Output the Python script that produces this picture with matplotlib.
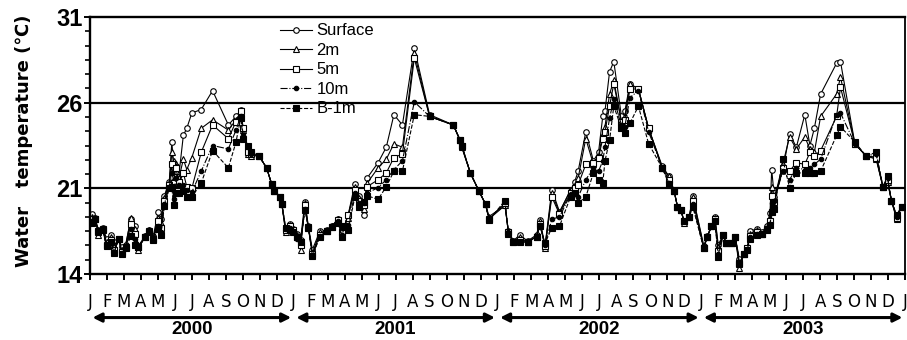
import numpy as np
import matplotlib
matplotlib.use("Agg")
import matplotlib.pyplot as plt

plt.rcParams['font.family'] = ['Liberation Sans', 'DejaVu Sans']

# sampling dates in months since January 2000
months = [0.10, 0.30, 0.50, 0.75, 0.98, 1.22, 1.41, 1.70, 1.86, 2.10, 2.41, 2.65, 2.85, 3.24, 3.49, 3.73,
          4.02, 4.18, 4.38, 4.67, 4.82, 4.92, 5.05, 5.24, 5.50, 5.70, 6.00, 6.55, 7.22, 8.15, 8.60, 8.87,
          9.03, 9.32, 9.50, 9.95, 10.40, 10.70, 10.86, 11.20, 11.30, 11.52, 11.78,
          11.97, 12.17, 12.40, 12.66, 12.86, 13.10, 13.54, 13.94, 14.23, 14.62, 14.82, 14.98, 15.20, 15.60,
          15.85, 16.15, 16.32, 16.97, 17.45, 17.90, 18.40, 19.10, 20.00, 21.40, 21.80, 21.90, 22.40, 22.90,
          23.30, 23.50,
          24.44, 24.64, 24.93, 25.30, 25.77, 26.30, 26.50, 26.80, 27.20, 27.65, 28.30, 28.55, 28.75, 29.20,
          29.65, 29.95, 30.20, 30.33, 30.60, 30.85, 31.30, 31.50, 31.80, 32.30, 32.90, 33.70, 34.10, 34.40,
          34.60, 34.80, 35.00, 35.30, 35.50, 36.15,
          36.35, 36.60, 36.80, 37.00, 37.30, 37.45, 37.80, 38.00, 38.25, 38.50, 38.70, 38.90, 39.26, 39.55,
          39.85, 40.05, 40.15, 40.30, 40.80, 41.20, 41.60, 42.10, 42.40, 42.66, 43.03, 43.97, 44.20, 45.05,
          45.70, 46.30, 46.70, 46.97, 47.20, 47.50, 47.80]

surface = [18.9, 18.6, 17.6, 17.8, 16.9, 17.2, 16.6, 16.9, 16.2, 16.4, 18.5, 17.9, 16.3, 17.1, 17.6, 17.1,
           19.1, 18.5, 20.4, 21.4, 23.7, 22.5, 22.3, 21.8, 24.1, 24.5, 25.4, 25.6, 26.7, 24.7, 25.2, 25.55,
           24.4, 23.3, 23.0, 22.9, 22.2, 21.25, 20.8, 20.3, 19.7, 17.8, 18.1,
           17.7, 17.3, 16.8, 19.9, 17.9, 16.0, 17.5, 17.6, 17.9, 18.5, 17.8, 17.9, 18.8, 21.25,
           20.4, 18.8, 21.6, 22.5, 23.4, 25.3, 24.7, 29.2, 25.3, 24.7, 23.8, 23.4, 21.9, 20.8,
           19.7, 18.5,
           19.6, 17.5, 16.7, 17.2, 16.7, 17.2, 18.4, 16.3, 20.9, 19.1, 20.8, 21.4, 22.0, 24.3,
           22.6, 23.1, 25.2, 25.5, 27.8, 28.4, 25.2, 25.5, 27.1, 26.8, 24.5, 22.3, 21.7, 20.8,
           19.5, 19.2, 18.3, 18.7, 20.4, 16.3,
           17.1, 17.9, 18.7, 16.4, 17.2, 16.5, 16.5, 17.05, 15.2, 15.6, 16.1, 17.5, 17.7, 17.4,
           17.9, 19.0, 22.1, 20.3, 22.0, 24.2, 23.4, 25.3, 23.5, 24.5, 26.5, 28.3, 28.4, 23.6,
           22.9, 22.8, 21.1, 21.4, 20.0, 18.8, 19.5]

depth_2m = [18.7, 18.6, 17.2, 17.7, 16.6, 17.0, 16.3, 16.9, 16.0, 16.3, 18.6, 17.7, 16.0, 17.1, 17.6, 17.0,
            18.6, 18.2, 20.2, 21.3, 23.1, 22.6, 22.0, 21.6, 22.7, 22.1, 22.8, 24.5, 25.0, 24.4, 25.0, 25.4,
            24.4, 23.0, 22.9, 22.9, 22.2, 21.25, 20.8, 20.3, 19.7, 17.45, 18.0,
            17.6, 17.2, 16.0, 19.8, 17.8, 15.7, 17.4, 17.5, 17.9, 18.5, 17.6, 17.9, 18.6, 21.1,
            20.2, 19.3, 21.3, 22.2, 22.7, 23.6, 23.4, 28.9, 25.2, 24.7, 23.8, 23.4, 21.9, 20.8,
            19.7, 18.7,
            19.6, 17.5, 16.7, 17.0, 16.6, 17.1, 18.3, 16.1, 20.6, 19.0, 20.9, 21.2, 21.6, 23.9,
            22.4, 22.9, 24.2, 24.6, 26.5, 27.3, 24.9, 25.2, 27.1, 26.8, 24.5, 22.2, 21.7, 20.8,
            19.5, 19.2, 18.2, 18.7, 20.3, 16.2,
            17.0, 17.9, 18.6, 16.2, 17.2, 16.5, 16.5, 17.05, 14.5, 15.6, 16.1, 17.3, 17.6, 17.3,
            17.8, 18.6, 21.1, 20.1, 22.4, 24.0, 23.3, 24.0, 23.3, 23.1, 25.2, 26.5, 27.5, 23.6,
            22.9, 22.7, 21.1, 21.4, 20.0, 18.5, 19.5]

depth_5m = [18.5, 18.5, 17.4, 17.7, 16.4, 16.8, 16.0, 16.9, 15.8, 16.2, 18.1, 17.3, 16.2, 17.0, 17.5, 16.9,
            18.3, 17.8, 20.0, 21.2, 22.4, 21.3, 22.2, 21.4, 21.9, 21.1, 21.0, 23.1, 24.7, 23.9, 24.9, 25.5,
            24.5, 23.1, 23.0, 22.9, 22.2, 21.25, 20.8, 20.3, 19.7, 17.6, 17.9,
            17.6, 17.0, 16.4, 19.6, 17.8, 15.6, 17.2, 17.5, 17.85, 18.4, 17.4, 17.9, 18.8, 20.9,
            20.0, 19.6, 21.1, 21.5, 21.9, 22.8, 23.0, 28.6, 25.2, 24.7, 23.8, 23.5, 21.9, 20.8,
            19.7, 18.5,
            19.8, 17.4, 16.6, 16.8, 16.6, 17.05, 18.1, 16.3, 20.3, 18.9, 20.6, 21.0, 21.2, 22.4,
            22.5, 22.8, 23.9, 24.3, 25.8, 27.1, 24.9, 25.0, 26.8, 26.8, 24.5, 22.2, 21.5, 20.8,
            19.5, 19.2, 18.3, 18.7, 20.0, 16.1,
            17.05, 17.9, 18.5, 15.9, 17.2, 16.5, 16.5, 17.05, 14.8, 15.6, 16.1, 17.1, 17.4, 17.3,
            17.7, 18.3, 20.4, 19.9, 22.2, 22.0, 22.5, 22.4, 23.1, 22.9, 23.2, 25.2, 26.9, 23.6,
            22.9, 22.8, 21.1, 21.5, 20.0, 18.6, 19.5]

depth_10m = [18.3, 18.5, 17.5, 17.6, 16.3, 16.6, 15.8, 16.85, 15.7, 16.1, 17.7, 16.9, 16.2, 17.0, 17.5, 16.8,
             17.9, 17.4, 19.7, 21.1, 21.9, 20.1, 21.6, 21.2, 21.2, 20.9, 20.7, 22.0, 23.5, 23.3, 24.4, 25.2,
             24.1, 23.4, 23.0, 22.9, 22.2, 21.25, 20.8, 20.3, 19.7, 17.7, 17.8,
             17.5, 16.9, 16.6, 19.3, 17.85, 15.5, 17.1, 17.5, 17.85, 18.3, 17.2, 17.85, 18.0, 20.6,
             19.8, 19.8, 20.6, 21.05, 21.5, 22.1, 22.6, 26.05, 25.2, 24.7, 23.8, 23.5, 21.9, 20.8,
             19.7, 18.4,
             19.9, 17.4, 16.6, 16.6, 16.6, 17.05, 18.0, 16.4, 18.5, 18.65, 20.5, 20.6, 20.3, 21.5,
             22.2, 22.0, 22.6, 23.4, 25.1, 26.2, 24.7, 24.6, 26.3, 26.7, 24.3, 22.2, 21.3, 20.8,
             19.5, 19.2, 18.3, 18.7, 19.7, 16.1,
             17.05, 17.9, 18.4, 15.6, 17.2, 16.5, 16.5, 17.05, 14.9, 15.6, 16.0, 17.0, 17.3, 17.3,
             17.7, 18.1, 19.8, 20.0, 22.0, 21.5, 22.2, 22.1, 22.2, 22.4, 22.7, 25.3, 25.4, 23.6,
             22.9, 23.0, 21.1, 21.6, 20.0, 18.7, 19.5]

bottom_1m = [18.2, 18.5, 17.5, 17.6, 16.3, 16.6, 15.7, 16.85, 15.65, 16.1, 17.1, 16.4, 16.2, 17.0, 17.4, 16.8,
             17.7, 17.2, 19.55, 21.0, 21.1, 19.6, 20.6, 20.6, 20.8, 20.3, 20.3, 21.3, 23.2, 22.2, 23.7, 25.1,
             23.9, 23.5, 23.1, 22.9, 22.2, 21.25, 20.8, 20.3, 19.7, 17.8, 17.6,
             17.4, 17.0, 16.6, 19.2, 17.85, 15.5, 17.05, 17.5, 17.85, 18.2, 17.05, 17.85, 17.6, 20.3,
             19.5, 19.9, 20.4, 20.1, 21.1, 22.0, 22.0, 25.3, 25.2, 24.7, 23.8, 23.5, 21.9, 20.8,
             19.7, 18.4,
             20.0, 17.3, 16.6, 16.6, 16.6, 17.05, 17.9, 16.5, 17.8, 17.9, 20.3, 20.6, 19.8, 20.3,
             21.9, 21.5, 21.3, 22.6, 23.8, 25.8, 24.5, 24.25, 24.8, 25.8, 23.6, 22.2, 21.25, 20.8,
             19.5, 19.2, 18.3, 18.7, 19.5, 16.1,
             17.05, 17.9, 18.3, 15.4, 17.2, 16.5, 16.5, 17.05, 14.9, 15.6, 16.0, 16.9, 17.2, 17.3,
             17.6, 18.0, 19.1, 19.3, 22.7, 21.05, 21.9, 21.9, 21.9, 21.9, 22.0, 24.1, 24.6, 23.7,
             22.9, 23.1, 21.1, 21.7, 20.0, 18.8, 19.5]

years = ['2000', '2001', '2002', '2003']
month_letters = list('JFMAMJJASOND') * 4 + ['J']
y_major = [14, 21, 26, 31]


# the temperature axis is stretched piecewise between its labelled values
def fwd(y):
    y = np.asarray(y, dtype=float)
    return np.where(y < 21, (y - 14) / 7, np.where(y < 26, 1 + (y - 21) / 5, 2 + (y - 26) / 5))


def inv(v):
    v = np.asarray(v, dtype=float)
    return np.where(v < 1, 14 + 7 * v, np.where(v < 2, 21 + 5 * (v - 1), 26 + 5 * (v - 2)))


fig = plt.figure(figsize=(9.07, 3.4), dpi=100)
ax = fig.add_axes([0.0992, 0.194, 0.8986, 0.756])
ax.set_yscale('function', functions=(fwd, inv))

styles = [
    (surface, 'Surface', dict(marker='o', ls='-', mfc='white', ms=4.0)),
    (depth_2m, '2m', dict(marker='^', ls='-', mfc='white', ms=5.0)),
    (depth_5m, '5m', dict(marker='s', ls='-', mfc='white', ms=4.6)),
    (depth_10m, '10m', dict(marker='o', ls='-.', mfc='black', ms=3.2)),
    (bottom_1m, 'B-1m', dict(marker='s', ls='--', mfc='black', ms=4.8)),
]
for values, name, kw in styles:
    ax.plot(months, values, color='black', lw=0.8, mec='black', mew=0.8, label=name, **kw)

for lev in (21, 26):
    ax.axhline(lev, color='black', lw=1.6, zorder=1)

ax.set_xlim(0, 48)
ax.set_ylim(14, 31)

ax.set_yticks(y_major)
ax.set_yticklabels([str(v) for v in y_major], fontsize=17, fontweight='bold')
minor = []
for lo, hi in zip(y_major[:-1], y_major[1:]):
    minor += [lo + (hi - lo) * k / 6 for k in range(1, 6)]
ax.set_yticks(minor, minor=True)
ax.tick_params(axis='y', which='major', length=4.5, width=1.4, pad=1)
ax.tick_params(axis='y', which='minor', length=3.5, width=1.2)

ax.set_xticks(range(49))
ax.set_xticklabels(month_letters, fontsize=12, family=['Liberation Sans Narrow', 'DejaVu Sans'])
ax.tick_params(axis='x', length=4.5, width=1.4, pad=9)

for side in ['left', 'bottom', 'top']:
    ax.spines[side].set_linewidth(1.7)
ax.spines['right'].set_linewidth(1.3)

# one double arrow per year under the month letters
for k, yr in enumerate(years):
    ax.annotate('', xy=(12 * k + 11.85, 0.066), xytext=(12 * k + 0.15, 0.066),
                xycoords=('data', 'figure fraction'), textcoords=('data', 'figure fraction'),
                arrowprops=dict(arrowstyle='<|-|>', lw=2.2, color='black', mutation_scale=13,
                                shrinkA=0, shrinkB=0),
                annotation_clip=False)
    ax.annotate(yr, xy=(12 * k + 6, 0.03), xycoords=('data', 'figure fraction'),
                ha='center', va='center', fontsize=13.5, fontweight='bold', annotation_clip=False)

fig.text(0.026, 0.585, 'Water   temperature (℃)', rotation=90, ha='center', va='center',
         fontsize=13, fontweight='bold', family=['Liberation Sans Narrow', 'DejaVu Sans'])

ax.legend(loc='upper left', bbox_to_anchor=(0.233, 0.975), frameon=False, fontsize=12,
          handlelength=1.9, handletextpad=0.3, labelspacing=0.27, borderpad=0, borderaxespad=0)

fig.savefig('out.png', dpi=100)
